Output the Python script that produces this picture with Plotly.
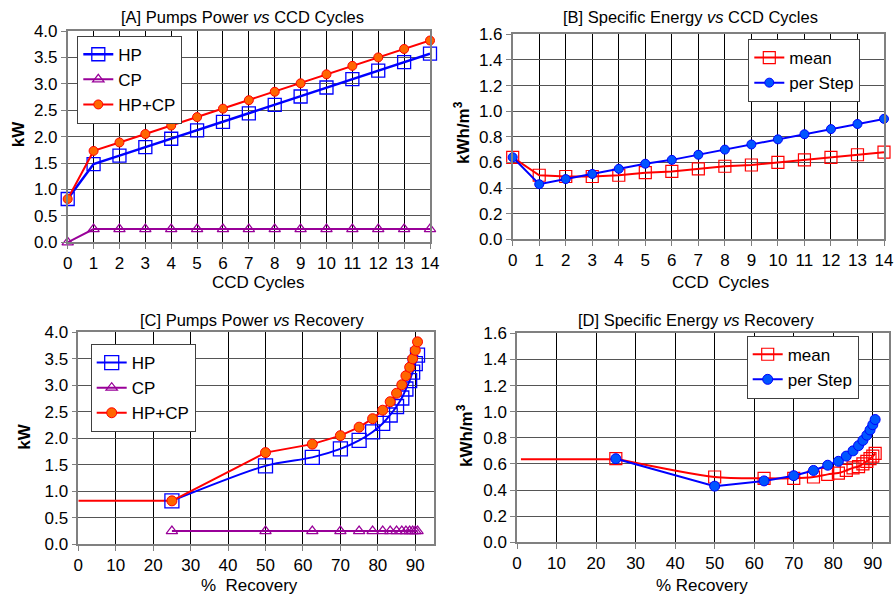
import plotly.graph_objects as go

# ---------------- data ----------------
cycles = [0, 1, 2, 3, 4, 5, 6, 7, 8, 9, 10, 11, 12, 13, 14]
recovery = [25, 50, 62.5, 70, 75, 78.6, 81.3, 83.3, 85, 86.4, 87.5, 88.5, 89.3, 90, 90.6]

hp_kw = [0.82, 1.48, 1.64, 1.80, 1.96, 2.12, 2.28, 2.44, 2.60, 2.76, 2.93, 3.09, 3.25, 3.41, 3.57]
cp_kw_cycles = [0.0, 0.25, 0.25, 0.25, 0.25, 0.25, 0.25, 0.25, 0.25, 0.25, 0.25, 0.25, 0.25, 0.25, 0.25]
cp_kw_recovery = [0.25, 0.25, 0.25, 0.25, 0.25, 0.25, 0.25, 0.25, 0.25, 0.25, 0.25, 0.25, 0.25, 0.25, 0.25]
hpcp_kw = [0.82, 1.73, 1.89, 2.05, 2.21, 2.37, 2.53, 2.69, 2.85, 3.01, 3.18, 3.34, 3.50, 3.66, 3.82]

mean_se = [0.64, 0.50, 0.49, 0.49, 0.50, 0.52, 0.53, 0.55, 0.57, 0.58, 0.60, 0.62, 0.64, 0.66, 0.68]
step_se = [0.64, 0.43, 0.47, 0.51, 0.55, 0.59, 0.62, 0.66, 0.70, 0.74, 0.78, 0.82, 0.86, 0.90, 0.94]

# level segments drawn before the first recovery point
c_level_x = [0, 25]
c_level_y = [0.82, 0.82]
d_level_x = [1, 25]
d_level_y = [0.635, 0.635]

x_ticks_cycles = cycles
x_ticks_recovery = [0, 10, 20, 30, 40, 50, 60, 70, 80, 90]

# ---------------- styles ----------------
FONT = "Arial, Liberation Sans, sans-serif"
BLUE = "#0000FF"
PURPLE = "#990099"
RED = "#FF0000"
ORANGE = "#FF6600"
STEPBLUE = "#0055FF"
TICK_SIZE = 17
LEG_SIZE = 17

W, H = 895, 596
def px(x):
    return x / W
def py(y):
    return 1 - y / H

fig = go.Figure()

# ---- Panel A ----
fig.add_trace(go.Scatter(x=cycles, y=hp_kw, name="HP", mode="lines+markers",
    line=dict(color=BLUE, width=2.5),
    marker=dict(symbol="square-open", size=13, color=BLUE, line=dict(width=1.3, color=BLUE)),
    xaxis="x", yaxis="y", legend="legend", cliponaxis=False))
fig.add_trace(go.Scatter(x=cycles, y=cp_kw_cycles, name="CP", mode="lines+markers",
    line=dict(color=PURPLE, width=2),
    marker=dict(symbol="triangle-up-open", size=10, color=PURPLE, line=dict(width=1.2, color=PURPLE)),
    xaxis="x", yaxis="y", legend="legend", cliponaxis=False))
fig.add_trace(go.Scatter(x=cycles, y=hpcp_kw, name="HP+CP", mode="lines+markers",
    line=dict(color=RED, width=2),
    marker=dict(symbol="circle", size=9, color=ORANGE, line=dict(width=1, color=RED)),
    xaxis="x", yaxis="y", legend="legend", cliponaxis=False))

# ---- Panel B ----
fig.add_trace(go.Scatter(x=cycles, y=mean_se, name="mean", mode="lines+markers",
    line=dict(color=RED, width=2),
    marker=dict(symbol="square-open", size=12, color=RED, line=dict(width=1.2, color=RED)),
    xaxis="x2", yaxis="y2", legend="legend2", cliponaxis=False))
fig.add_trace(go.Scatter(x=cycles, y=step_se, name="per Step", mode="lines+markers",
    line=dict(color=BLUE, width=2),
    marker=dict(symbol="circle", size=9, color=STEPBLUE, line=dict(width=1, color=BLUE)),
    xaxis="x2", yaxis="y2", legend="legend2", cliponaxis=False))

# ---- Panel C ----
fig.add_trace(go.Scatter(x=c_level_x, y=c_level_y, mode="lines", showlegend=False,
    line=dict(color=RED, width=2), xaxis="x3", yaxis="y3", hoverinfo="skip"))
fig.add_trace(go.Scatter(x=recovery, y=hp_kw, name="HP", mode="lines+markers",
    line=dict(color=BLUE, width=2, shape="spline", smoothing=0.8),
    marker=dict(symbol="square-open", size=14, color=BLUE, line=dict(width=1.3, color=BLUE)),
    xaxis="x3", yaxis="y3", legend="legend3", cliponaxis=False))
fig.add_trace(go.Scatter(x=recovery, y=cp_kw_recovery, name="CP", mode="lines+markers",
    line=dict(color=PURPLE, width=2),
    marker=dict(symbol="triangle-up-open", size=10, color=PURPLE, line=dict(width=1.2, color=PURPLE)),
    xaxis="x3", yaxis="y3", legend="legend3", cliponaxis=False))
fig.add_trace(go.Scatter(x=recovery, y=hpcp_kw, name="HP+CP", mode="lines+markers",
    line=dict(color=RED, width=2),
    marker=dict(symbol="circle", size=10, color=ORANGE, line=dict(width=1, color=RED)),
    xaxis="x3", yaxis="y3", legend="legend3", cliponaxis=False))

# ---- Panel D ----
fig.add_trace(go.Scatter(x=d_level_x, y=d_level_y, mode="lines", showlegend=False,
    line=dict(color=RED, width=2), xaxis="x4", yaxis="y4", hoverinfo="skip"))
fig.add_trace(go.Scatter(x=recovery, y=mean_se, name="mean", mode="lines+markers",
    line=dict(color=RED, width=2, shape="spline", smoothing=0.8),
    marker=dict(symbol="square-open", size=12, color=RED, line=dict(width=1.2, color=RED)),
    xaxis="x4", yaxis="y4", legend="legend4", cliponaxis=False))
fig.add_trace(go.Scatter(x=recovery, y=step_se, name="per Step", mode="lines+markers",
    line=dict(color=BLUE, width=2),
    marker=dict(symbol="circle", size=10, color=STEPBLUE, line=dict(width=1, color=BLUE)),
    xaxis="x4", yaxis="y4", legend="legend4", cliponaxis=False))

# ---------------- axes ----------------
def xax(domain, rng, tickvals, anchor):
    return dict(domain=domain, range=rng, tickvals=tickvals, anchor=anchor,
                automargin=False, ticklabeloverflow="allow",
                showline=True, linecolor="#808080", linewidth=1.5, mirror=True,
                ticks="outside", ticklen=5, tickcolor="#808080", tickwidth=1,
                showgrid=True, gridcolor="#000000", gridwidth=1, zeroline=False,
                tickfont=dict(family=FONT, size=TICK_SIZE, color="black"))

def yax(domain, rng, dtick, anchor):
    return dict(domain=domain, range=rng, dtick=dtick, tick0=0, anchor=anchor,
                tickformat=".1f", automargin=False, ticklabeloverflow="allow",
                showline=True, linecolor="#808080", linewidth=1.5, mirror=True,
                ticks="outside", ticklen=5, tickcolor="#808080", tickwidth=1,
                showgrid=True, gridcolor="#555555", gridwidth=1, zeroline=False,
                tickfont=dict(family=FONT, size=TICK_SIZE, color="black"))

fig.update_layout(
    xaxis=xax([px(67.7), px(430)], [0, 14], x_ticks_cycles, "y"),
    yaxis=yax([py(242.3), py(31)], [0, 4.0], 0.5, "x"),
    xaxis2=xax([px(512.7), px(884)], [0, 14], x_ticks_cycles, "y2"),
    yaxis2=yax([py(239.3), py(34.3)], [0, 1.6], 0.2, "x2"),
    xaxis3=xax([px(78.3), px(434)], [0, 95], x_ticks_recovery, "y3"),
    yaxis3=yax([py(544.3), py(332.3)], [0, 4.0], 0.5, "x3"),
    xaxis4=xax([px(517), px(889)], [0, 94.1], x_ticks_recovery, "y4"),
    yaxis4=yax([py(542.3), py(333.3)], [0, 1.6], 0.2, "x4"),
)

def leg(x, y):
    return dict(x=px(x), y=py(y), xanchor="left", yanchor="top",
                bgcolor="white", bordercolor="#404040", borderwidth=1,
                font=dict(family=FONT, size=LEG_SIZE, color="black"),
                itemwidth=30, tracegroupgap=0)

fig.update_layout(
    legend=leg(77.3, 35.7),
    legend2=leg(748.3, 39),
    legend3=leg(90.7, 344),
    legend4=leg(746.7, 335.7),
)

# ---------------- text ----------------
ann = []
def add_text(text, x, y, size=16, angle=0, bold=False):
    if bold:
        text = "<b>" + text + "</b>"
    ann.append(dict(text=text, x=px(x), y=py(y), xref="paper", yref="paper",
                    showarrow=False, xanchor="center", yanchor="middle",
                    textangle=angle, font=dict(family=FONT, size=size, color="black")))

add_text("[A] Pumps Power <i>vs</i> CCD Cycles", 242.5, 16.7, 16.5)
add_text("[B] Specific Energy <i>vs</i> CCD Cycles", 690, 16.7, 16.5)
add_text("[C] Pumps Power <i>vs</i> Recovery", 251.7, 320, 16.5)
add_text("[D] Specific Energy <i>vs</i> Recovery", 695.7, 320, 16.5)

add_text("CCD Cycles", 258.3, 282.7, 17)
add_text("CCD  Cycles", 720, 282.7, 17)
add_text("%  Recovery", 250, 585, 17)
add_text("% Recovery", 701.7, 585, 17)

add_text("kW", 18.3, 134, 17, -90, True)
add_text("kWh/m<sup>3</sup>", 462, 133, 17, -90, True)
add_text("kW", 25, 436.7, 17, -90, True)
add_text("kWh/m<sup>3</sup>", 465, 435, 17, -90, True)

fig.update_layout(
    annotations=ann,
    width=W, height=H,
    margin=dict(l=0, r=0, t=0, b=0, autoexpand=False),
    paper_bgcolor="white", plot_bgcolor="white",
    font=dict(family=FONT, size=16, color="black"),
    showlegend=True,
)

# remove the page's default body margin so the 895x596 figure fills the window exactly
fig.write_html("out.html",
               config={"displayModeBar": False},
               post_script="document.body.style.margin='0';document.body.style.padding='0';document.body.style.overflow='hidden';")
